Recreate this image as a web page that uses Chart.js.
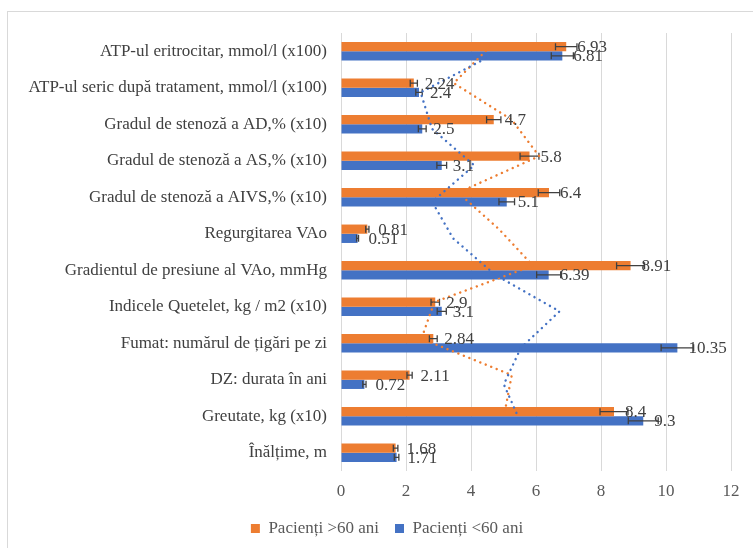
<!DOCTYPE html>
<html><head><meta charset="utf-8">
<script src="https://cdn.jsdelivr.net/npm/chart.js@4.4.1/dist/chart.umd.min.js"></script>
<style>
html,body{margin:0;padding:0;background:#fff;}
#wrap{position:relative;width:753px;height:548px;overflow:hidden;}
#frame{position:absolute;left:7px;top:11px;width:800px;height:600px;border:1px solid #d9d9d9;box-sizing:border-box;}
canvas{position:absolute;left:0;top:0;}
</style></head><body>
<div id="wrap"><div id="frame"></div><canvas id="c" width="753" height="548"></canvas></div>
<script>
// ---- data (top to bottom as displayed) ----
const categories = [
  "ATP-ul eritrocitar, mmol/l (x100)",
  "ATP-ul seric după tratament, mmol/l (x100)",
  "Gradul de stenoză a AD,% (x10)",
  "Gradul de stenoză a AS,% (x10)",
  "Gradul de stenoză a AIVS,% (x10)",
  "Regurgitarea VAo",
  "Gradientul de presiune al VAo, mmHg",
  "Indicele Quetelet, kg / m2 (x10)",
  "Fumat: numărul de țigări pe zi",
  "DZ: durata în ani",
  "Greutate, kg (x10)",
  "Înălțime, m"
];
const seriesNames = ["Pacienți >60 ani", "Pacienți <60 ani"];
const over60 = [6.93, 2.24, 4.7, 5.8, 6.4, 0.81, 8.91, 2.9, 2.84, 2.11, 8.4, 1.68];
const under60 = [6.81, 2.4, 2.5, 3.1, 5.1, 0.51, 6.39, 3.1, 10.35, 0.72, 9.3, 1.71];
const errOver60 = [0.33, 0.11, 0.22, 0.29, 0.33, 0.05, 0.43, 0.13, 0.12, 0.08, 0.43, 0.07];
const errUnder60 = [0.34, 0.10, 0.12, 0.15, 0.24, 0.03, 0.37, 0.14, 0.50, 0.05, 0.46, 0.07];
const xTickValues = [0, 2, 4, 6, 8, 10, 12];

const ORANGE = "#ED7D31", BLUE = "#4472C4";
const errors = [errOver60, errUnder60];
const FONT = "'Liberation Serif', 'Times New Roman', serif";
const FS = 17;

// Excel-style 2-period moving average trendline (category order in Excel runs bottom-up)
function movingAverage2(v) {
  const out = [];
  for (let j = 0; j < v.length - 1; j++) out.push((v[j] + v[j + 1]) / 2);
  return out;
}

const overlay = {
  id: 'overlay',
  afterLayout(chart) {
    // centre the legend under the (wider, cropped) Excel chart frame
    if (chart.legend) { chart.legend.left += 18; chart.legend.right += 18; }
  },
  afterDatasetsDraw(chart) {
    const ctx = chart.ctx;
    const xs = chart.scales.x;
    chart.data.datasets.forEach((ds, di) => {
      const meta = chart.getDatasetMeta(di);
      ctx.save();
      ctx.strokeStyle = "#404040";
      ctx.lineWidth = 1.3;
      meta.data.forEach((bar, i) => {
        const v = ds.data[i], e = errors[di][i];
        const x1 = xs.getPixelForValue(v - e), x2 = xs.getPixelForValue(v + e), y = bar.y;
        ctx.beginPath();
        ctx.moveTo(x1, y); ctx.lineTo(x2, y);
        ctx.moveTo(x1, y - 3.5); ctx.lineTo(x1, y + 3.5);
        ctx.moveTo(x2, y - 3.5); ctx.lineTo(x2, y + 3.5);
        ctx.stroke();
      });
      ctx.restore();
    });
    chart.data.datasets.forEach((ds, di) => {
      const meta = chart.getDatasetMeta(di);
      const ma = movingAverage2(ds.data);
      ctx.save();
      ctx.strokeStyle = ds.backgroundColor;
      ctx.lineWidth = 2.4;
      ctx.lineCap = 'round';
      ctx.setLineDash([0.1, 5.8]);
      ctx.beginPath();
      ma.forEach((m, j) => {
        const x = xs.getPixelForValue(m), y = meta.data[j].y;
        if (j === 0) ctx.moveTo(x, y); else ctx.lineTo(x, y);
      });
      ctx.stroke();
      ctx.restore();
    });
    chart.data.datasets.forEach((ds, di) => {
      const meta = chart.getDatasetMeta(di);
      ctx.save();
      ctx.fillStyle = "#404040";
      ctx.font = FS + "px " + FONT;
      ctx.textBaseline = 'middle';
      ctx.textAlign = 'left';
      meta.data.forEach((bar, i) => {
        ctx.fillText(String(ds.data[i]), bar.x + 11, bar.y + 1);
      });
      ctx.restore();
    });
  }
};

new Chart(document.getElementById('c'), {
  type: 'bar',
  data: {
    labels: categories,
    datasets: [
      { label: seriesNames[0], data: over60, backgroundColor: ORANGE, borderWidth: 0,
        categoryPercentage: 0.505, barPercentage: 1.0 },
      { label: seriesNames[1], data: under60, backgroundColor: BLUE, borderWidth: 0,
        categoryPercentage: 0.505, barPercentage: 1.0 }
    ]
  },
  options: {
    indexAxis: 'y',
    responsive: false,
    animation: false,
    layout: { padding: { left: 7, right: 22, top: 33, bottom: 1 } },
    scales: {
      x: {
        min: 0, max: 12,
        afterBuildTicks(s) { s.ticks = xTickValues.map(v => ({ value: v })); },
        grid: { color: "#d9d9d9", lineWidth: 1, drawTicks: false },
        border: { display: false },
        ticks: { color: "#595959", font: { family: FONT, size: FS }, padding: 10.5 },
        afterFit(s) { s.height = 33; }
      },
      y: {
        grid: { display: false, drawTicks: false },
        border: { display: false },
        ticks: { color: "#404040", font: { family: FONT, size: FS }, padding: 14, autoSkip: false },
        afterFit(s) { s.width = 334; }
      }
    },
    plugins: {
      legend: {
        position: 'bottom',
        labels: { boxWidth: 9, boxHeight: 9, padding: 16, color: "#595959",
                  font: { family: FONT, size: FS } }
      },
      tooltip: { enabled: false }
    }
  },
  plugins: [overlay]
});
</script>
</body></html>
